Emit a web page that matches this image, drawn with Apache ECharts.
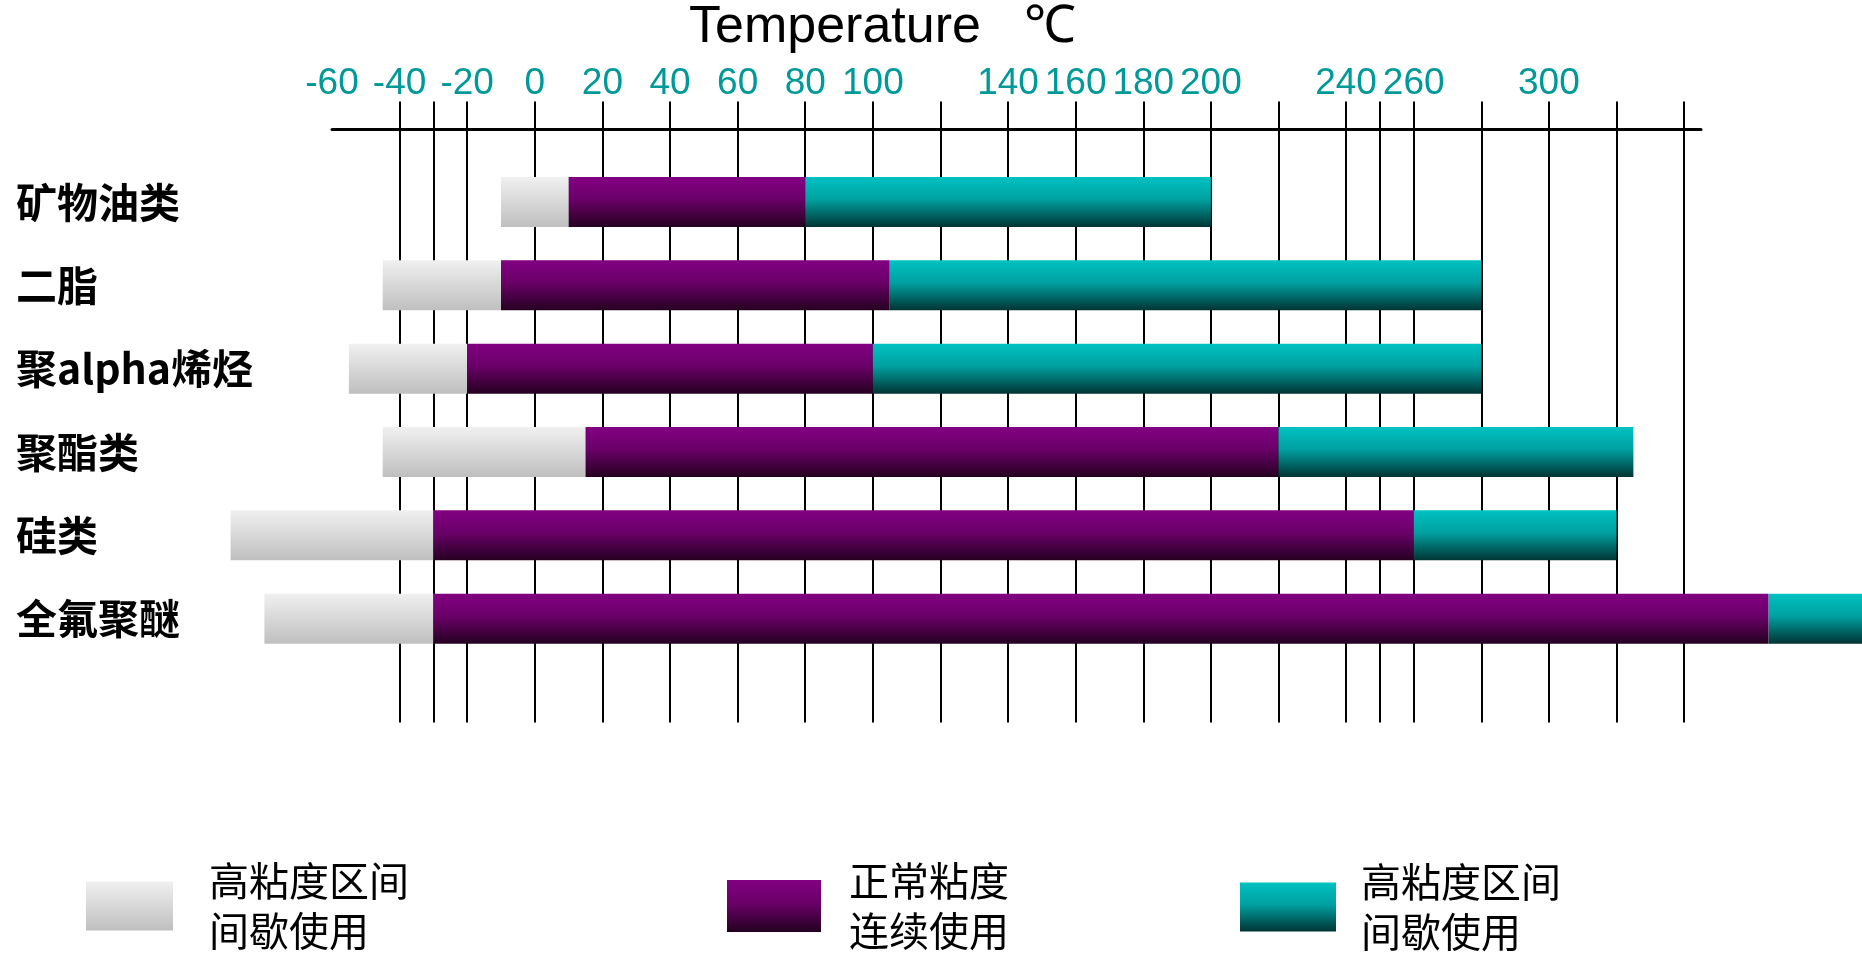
<!DOCTYPE html>
<html>
<head>
<meta charset="utf-8">
<title>Temperature ranges of lubricant base oils</title>
<script src="https://cdn.jsdelivr.net/npm/echarts@6/dist/echarts.min.js"></script>
<style>
  html, body { margin: 0; padding: 0; background: #fff; }
  #chart { width: 1862px; height: 975px; }
</style>
</head>
<body>
<div id="chart"></div>
<script>
// Base oil types, one row each (top to bottom)
const categories = ['矿物油类', '二脂', '聚alpha烯烃', '聚酯类', '硅类', '全氟聚醚'];

// Temperature boundaries of each row, in °C
const lowViscStart = [-10, -45, -55, -45, -90, -80];   // start of low-temperature intermittent range
const normalStart  = [10, -10, -20, 15, -30, -30];     // start of continuous-use range
const normalEnd    = [80, 105, 100, 220, 260, 365];    // end of continuous-use range
const highEnd      = [200, 280, 280, 325, 320, 400];   // end of high-temperature intermittent range

// Axis labels and grid lines, in °C
const tickLabels = [-60, -40, -20, 0, 20, 40, 60, 80, 100, 140, 160, 180, 200, 240, 260, 300];
const gridLines = [-40, -30, -20, 0, 20, 40, 60, 80, 100, 120, 140, 160, 180, 200, 220, 240, 250, 260, 280, 300, 320, 340];

// Legend captions
const legendNames = ['lowRange', 'normalRange', 'highRange'];
const legendTexts = ['高粘度区间\n间歇使用', '正常粘度\n连续使用', '高粘度区间\n间歇使用'];

const G = echarts.graphic;
const grayFill   = new G.LinearGradient(0, 0, 0, 1, [{ offset: 0, color: '#f0f0f0' }, { offset: 1, color: '#bfbfbf' }]);
const purpleFill = new G.LinearGradient(0, 0, 0, 1, [{ offset: 0, color: '#820082' }, { offset: 0.45, color: '#6a0068' }, { offset: 1, color: '#250020' }]);
const tealFill   = new G.LinearGradient(0, 0, 0, 1, [{ offset: 0, color: '#00c2c2' }, { offset: 0.45, color: '#00a0a0' }, { offset: 1, color: '#003434' }]);

function rows(starts, ends) {
  return categories.map((_, i) => [i, starts[i], ends[i]]);
}

function segmentRenderer(fill) {
  return function (params, api) {
    const row = api.value(0);
    const a = api.coord([api.value(1), row]);
    const b = api.coord([api.value(2), row]);
    const h = api.size([0, 0.6])[1];
    return {
      type: 'rect',
      shape: { x: a[0], y: a[1] - h / 2, width: b[0] - a[0], height: h },
      style: { fill: fill }
    };
  };
}

function segmentSeries(name, fill, starts, ends) {
  return {
    name: name,
    type: 'custom',
    coordinateSystem: 'cartesian2d',
    renderItem: segmentRenderer(fill),
    itemStyle: { color: fill },
    encode: { x: [1, 2], y: 0 },
    clip: false,
    data: rows(starts, ends),
    z: 5
  };
}

const legendText = {
  fontFamily: "'Noto Sans CJK SC', sans-serif",
  fontSize: 40,
  lineHeight: 50,
  color: '#000'
};

function legendBox(idx, left, top, w, h, padTop, padLeft) {
  return {
    data: [legendNames[idx]],
    left: left,
    top: top,
    padding: 0,
    icon: 'rect',
    itemWidth: w,
    itemHeight: h,
    selectedMode: false,
    formatter: () => legendTexts[idx],
    textStyle: Object.assign({ padding: [padTop, 0, 0, padLeft] }, legendText)
  };
}

const latin = "'Liberation Sans', Arial, sans-serif";

const chart = echarts.init(document.getElementById('chart'), null, { renderer: 'canvas' });

chart.setOption({
  backgroundColor: '#ffffff',
  animation: false,
  title: {
    text: 'Temperature   ℃',
    left: 689,
    top: 2,
    padding: 0,
    textStyle: {
      fontFamily: latin,
      fontSize: 52,
      fontWeight: 'normal',
      color: '#000'
    }
  },
  grid: { left: 332, right: 161, top: 129.5, bottom: 253 },
  xAxis: [
    {
      type: 'value',
      position: 'top',
      min: -60,
      max: 345,
      axisLine: { show: true, onZero: false, lineStyle: { color: '#000', width: 3 } },
      axisTick: { show: true, inside: false, length: 28, customValues: gridLines, lineStyle: { color: '#000', width: 2 } },
      axisLabel: {
        show: true,
        customValues: tickLabels,
        margin: 27,
        fontFamily: latin,
        fontSize: 37,
        color: '#009999'
      },
      splitLine: { show: false }
    },
    {
      type: 'value',
      position: 'top',
      min: -60,
      max: 345,
      axisLine: { show: false, onZero: false },
      axisTick: { show: true, inside: true, length: 593, customValues: gridLines, lineStyle: { color: '#000', width: 2 } },
      axisLabel: { show: false },
      splitLine: { show: false }
    }
  ],
  yAxis: {
    type: 'value',
    inverse: true,
    min: -0.87,
    max: 6.24,
    axisLine: { show: false },
    axisTick: { show: false },
    splitLine: { show: false },
    axisLabel: {
      show: true,
      customValues: categories.map((_, i) => i),
      formatter: (v) => categories[Math.round(v)],
      align: 'left',
      margin: 316,
      fontFamily: "'Noto Sans CJK SC', sans-serif",
      fontWeight: 'bold',
      fontSize: 41,
      color: '#000'
    }
  },
  legend: [
    legendBox(0, 86, 836.5, 87, 49, 39, 31),
    legendBox(1, 727, 843, 94, 52, 26, 23),
    legendBox(2, 1240, 844.5, 96, 49, 25, 20)
  ],
  series: [
    segmentSeries('lowRange', grayFill, lowViscStart, normalStart),
    segmentSeries('normalRange', purpleFill, normalStart, normalEnd),
    segmentSeries('highRange', tealFill, normalEnd, highEnd)
  ]
});
</script>
</body>
</html>
